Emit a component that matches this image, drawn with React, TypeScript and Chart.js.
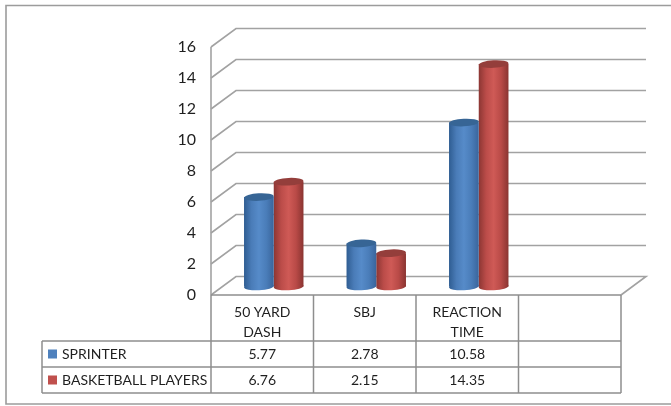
import React, { useEffect, useRef } from "react";
import { Chart, registerables } from "chart.js";

Chart.register(...registerables);

const categories: (string | string[])[] = [["50 YARD", "DASH"], "SBJ", ["REACTION", "TIME"], ""];
const sprinter: (number | null)[] = [5.77, 2.78, 10.58, null];
const basketballPlayers: (number | null)[] = [6.76, 2.15, 14.35, null];
const seriesNames = ["SPRINTER", "BASKETBALL PLAYERS"];
const seriesSwatches = ["#4f81bd", "#c0504d"];
const yTicks = [0, 2, 4, 6, 8, 10, 12, 14, 16];

const FONT = "Lato, 'Open Sans', sans-serif";
const TEXT = "#1f1f1f";
const GRID = "#a2a2a2";
const TABLE = "#8e8e8e";
const DEPTH_X = 25;
const DEPTH_Y = 18.5;
const BAR_DX = 11.5;
const BAR_DY = 8.5;
const CAP_RY = 3.8;
const CAT_PCT = 0.58;
const ROW_BOTTOMS = [341, 367, 393];
const TABLE_LEFT = 42;

const ramps = [
  ["#2f5d92", "#4a7cb8", "#568bc9", "#4a7db9", "#3a659c"],
  ["#8c3633", "#bb4c49", "#cf5a56", "#b94a47", "#8a3431"],
];
const capColours = ["#376595", "#943e3b"];

function barGradient(ctx: any) {
  const { chart, datasetIndex, dataIndex } = ctx;
  const x = chart.scales.x;
  if (!x || dataIndex === undefined || !chart.chartArea) return seriesSwatches[datasetIndex];
  const w = (x.width / categories.length) * CAT_PCT * 0.5;
  const left = x.getPixelForValue(dataIndex) + (datasetIndex - 1) * w;
  if (!Number.isFinite(left) || !Number.isFinite(w)) return seriesSwatches[datasetIndex];
  const g = chart.ctx.createLinearGradient(left, 0, left + w, 0);
  const stops = [0, 0.25, 0.5, 0.75, 1];
  stops.forEach((s, i) => g.addColorStop(s, ramps[datasetIndex][i]));
  return g;
}

// A cylinder end is only drawn for categories that hold a value.
function hasValue(chart: any, datasetIndex: number, i: number) {
  return chart.data.datasets[datasetIndex].data[i] != null;
}

// Draws the 3-D walls, the cylinder ends and the data table around the bars.
const chrome = {
  id: "chrome",
  beforeDraw(chart: any) {
    const { ctx, chartArea: a, scales } = chart;
    ctx.save();
    // picture frame
    ctx.strokeStyle = "#9c9c9c";
    ctx.lineWidth = 1.6;
    ctx.beginPath();
    ctx.moveTo(672, 5.5);
    ctx.lineTo(6, 5.5);
    ctx.lineTo(6, 404);
    ctx.lineTo(672, 404);
    ctx.stroke();
    // wall and floor lines
    ctx.strokeStyle = GRID;
    ctx.lineWidth = 1.6;
    for (const t of yTicks) {
      const y = scales.y.getPixelForValue(t);
      ctx.beginPath();
      ctx.moveTo(a.left, y);
      ctx.lineTo(a.left + DEPTH_X, y - DEPTH_Y);
      ctx.lineTo(a.right + DEPTH_X, y - DEPTH_Y);
      if (t === 0) ctx.lineTo(a.right, y);
      ctx.stroke();
    }
    ctx.beginPath();
    ctx.moveTo(a.left, a.top);
    ctx.lineTo(a.left, a.bottom);
    ctx.stroke();
    ctx.restore();
  },
  beforeDatasetDraw(chart: any, args: any) {
    const { ctx } = chart;
    ctx.save();
    ctx.translate(BAR_DX, -BAR_DY);
    args.meta.data.forEach((el: any, i: number) => {
      if (!hasValue(chart, args.index, i)) return;
      ctx.beginPath();
      ctx.ellipse(el.x, el.base, el.width / 2, CAP_RY, -0.05, 0, Math.PI * 2);
      ctx.fillStyle = el.options.backgroundColor;
      ctx.fill();
    });
  },
  afterDatasetDraw(chart: any, args: any) {
    const { ctx } = chart;
    args.meta.data.forEach((el: any, i: number) => {
      if (!hasValue(chart, args.index, i)) return;
      ctx.beginPath();
      ctx.ellipse(el.x, el.y, el.width / 2, CAP_RY, -0.05, 0, Math.PI * 2);
      ctx.fillStyle = capColours[args.index];
      ctx.fill();
    });
    ctx.restore();
  },
  afterDraw(chart: any) {
    const { ctx, chartArea: a, scales } = chart;
    ctx.save();
    ctx.strokeStyle = TABLE;
    ctx.lineWidth = 1.5;
    const n = categories.length;
    const bottom = ROW_BOTTOMS[ROW_BOTTOMS.length - 1];
    // header edge and column rules
    ctx.beginPath();
    ctx.moveTo(a.left, a.bottom);
    ctx.lineTo(a.right, a.bottom);
    for (let i = 0; i <= n; i++) {
      const x = a.left + (i * (a.right - a.left)) / n;
      ctx.moveTo(x, a.bottom);
      ctx.lineTo(x, bottom);
    }
    ROW_BOTTOMS.forEach((y) => {
      ctx.moveTo(TABLE_LEFT, y);
      ctx.lineTo(a.right, y);
    });
    ctx.moveTo(TABLE_LEFT, ROW_BOTTOMS[0]);
    ctx.lineTo(TABLE_LEFT, bottom);
    ctx.stroke();

    // series rows
    ctx.textBaseline = "middle";
    const rows = [sprinter, basketballPlayers];
    rows.forEach((values, r) => {
      const mid = (ROW_BOTTOMS[r] + ROW_BOTTOMS[r + 1]) / 2;
      ctx.fillStyle = seriesSwatches[r];
      ctx.fillRect(48, mid - 4.5, 9, 9);
      ctx.fillStyle = TEXT;
      ctx.textAlign = "left";
      ctx.font = `14px ${FONT}`;
      ctx.fillText(seriesNames[r], 62, mid + 0.5);
      ctx.textAlign = "center";
      values.forEach((v, c) => {
        if (v == null) return;
        ctx.fillText(String(v), scales.x.getPixelForValue(c), mid + 0.5);
      });
    });
    ctx.restore();
  },
};

export default function App() {
  const ref = useRef<HTMLCanvasElement>(null);
  useEffect(() => {
    document.body.style.margin = "0";
    document.body.style.background = "#fff";
    const chart = new Chart(ref.current!, {
      type: "bar",
      data: {
        labels: categories as any,
        datasets: [
          { label: seriesNames[0], data: sprinter, backgroundColor: barGradient, clip: false } as any,
          { label: seriesNames[1], data: basketballPlayers, backgroundColor: barGradient, clip: false } as any,
        ],
      },
      options: {
        responsive: false,
        animation: false,
        events: [],
        layout: { padding: { top: 47, right: 50, left: 0, bottom: 0 } },
        plugins: { legend: { display: false }, tooltip: { enabled: false } },
        datasets: { bar: { categoryPercentage: CAT_PCT, barPercentage: 1 } },
        scales: {
          x: {
            grid: { display: false, drawTicks: false },
            border: { display: false },
            afterFit: (s: any) => { s.height = 111; },
            ticks: {
              autoSkip: false,
              maxRotation: 0,
              minRotation: 0,
              padding: 8,
              color: TEXT,
              font: { family: FONT, size: 14, lineHeight: 1.42 },
            },
          },
          y: {
            min: 0,
            max: 16,
            grid: { display: false, drawTicks: false },
            border: { display: false },
            afterFit: (s: any) => { s.width = 211; },
            afterBuildTicks: (s: any) => { s.ticks = yTicks.map((value) => ({ value })); },
            ticks: {
              padding: 15,
              color: TEXT,
              font: { family: FONT, size: 16 },
            },
          },
        },
      },
      plugins: [chrome],
    } as any);
    return () => chart.destroy();
  }, []);
  return <canvas ref={ref} width={671} height={406} style={{ display: "block" }} />;
}
